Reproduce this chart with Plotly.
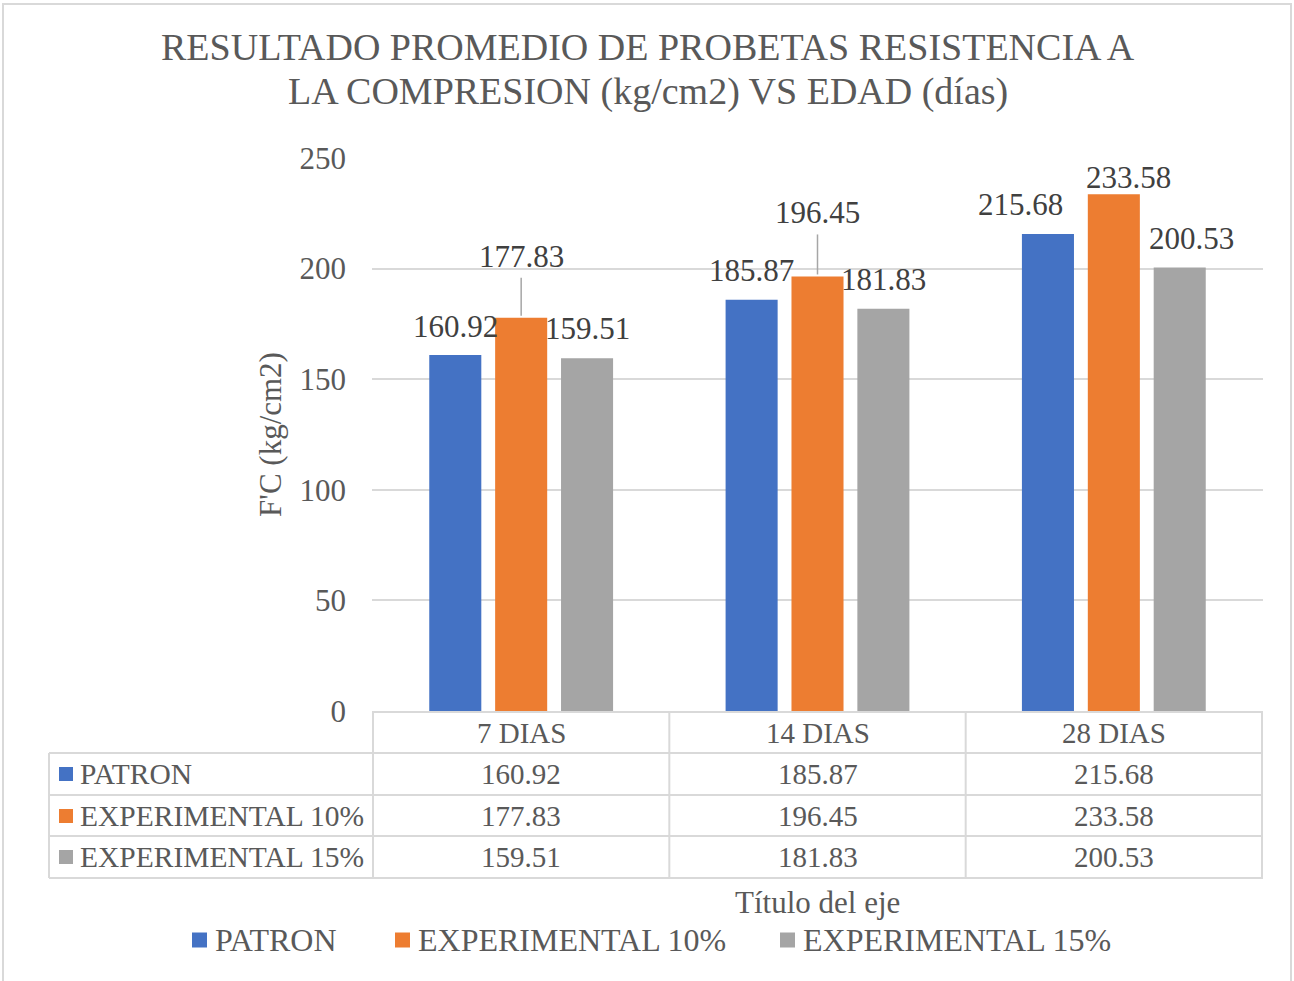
import plotly.graph_objects as go

# ---------------- data ----------------
categories = ["7 DIAS", "14 DIAS", "28 DIAS"]
series_names = ["PATRON", "EXPERIMENTAL 10%", "EXPERIMENTAL 15%"]
patron = [160.92, 185.87, 215.68]
exp10 = [177.83, 196.45, 233.58]
exp15 = [159.51, 181.83, 200.53]
y_ticks = [0, 50, 100, 150, 200, 250]
title_lines = ["RESULTADO PROMEDIO DE PROBETAS RESISTENCIA A",
               "LA COMPRESION (kg/cm2) VS EDAD (días)"]
y_title = "F'C (kg/cm2)"
x_title = "Título del eje"

series_values = [patron, exp10, exp15]

# ---------------- style ----------------
colors = ["#4472C4", "#ED7D31", "#A5A5A5"]
FONT = "Liberation Serif"
TXT = "#595959"
LBL = "#404040"
GRID = "#D9D9D9"
W, H = 1294, 981
ML, MR, MT, MB = 372, 31, 158, 270
PW = W - ML - MR
PH = H - MT - MB


def px(x):
    return (x - ML) / PW


def py(y):
    return (H - MB - y) / PH


BAR_STEP = 66  # px between bar centres within a group
# label offsets (px) relative to bar centre / bar top
label_dx = [[0, 0, -27], [0, 0, 15], [0, 0, 12]]
label_dy = [[29, 29, 29], [61, 64, 17], [30, 29, 29]]
# leader lines (series index, category index, length px) - middle series sits at category centre
leaders = [(1, 0, 40), (1, 1, 42)]
# manual legend layout (px): square left edge, text left edge
legend_sq_x = [192, 395, 780]
LEG_Y = 940

fig = go.Figure()
for name, vals, col in zip(series_names, series_values, colors):
    fig.add_trace(go.Bar(x=categories, y=vals, name=name, showlegend=False,
                         marker=dict(color=col, line=dict(width=0))))

annotations = []
shapes = []

# title
for k, (line, yc) in enumerate(zip(title_lines, [47, 92])):
    annotations.append(dict(x=px(648), y=py(yc), xref="paper", yref="paper", text=line,
                            showarrow=False, xanchor="center", yanchor="middle",
                            font=dict(family=FONT, size=38, color=TXT)))

# data labels
for i, vals in enumerate(series_values):
    for j, v in enumerate(vals):
        annotations.append(dict(
            x=categories[j], y=v, xref="x", yref="y",
            xshift=(i - 1) * BAR_STEP + label_dx[i][j], yshift=label_dy[i][j],
            text=f"{v:.2f}", showarrow=False, yanchor="middle", xanchor="center",
            font=dict(family=FONT, size=31, color=LBL)))

# leader lines
for i, j, ln in leaders:
    shapes.append(dict(type="line", xref="x", yref="y", x0=categories[j], x1=categories[j],
                       ysizemode="pixel", yanchor=series_values[i][j], y0=2, y1=ln,
                       line=dict(color="#A6A6A6", width=1.5)))

# ---------------- data table ----------------
row_lines = [753, 795, 836, 878]
row_centres = [774, 816, 857]
for yy in row_lines:
    shapes.append(dict(type="line", xref="paper", yref="paper", x0=px(49), x1=1.0,
                       y0=py(yy), y1=py(yy), line=dict(color=GRID, width=2)))
for b in [-0.5, 0.5, 1.5, 2.5]:
    shapes.append(dict(type="line", xref="x", yref="paper", x0=b, x1=b,
                       y0=py(711), y1=py(878), line=dict(color=GRID, width=2)))
shapes.append(dict(type="line", xref="paper", yref="paper", x0=px(49), x1=px(49),
                   y0=py(753), y1=py(878), line=dict(color=GRID, width=2)))

for j, c in enumerate(categories):
    annotations.append(dict(x=c, y=py(733), xref="x", yref="paper", text=c, showarrow=False,
                            yanchor="middle", font=dict(family=FONT, size=29, color=TXT)))
for i, (name, vals, col) in enumerate(zip(series_names, series_values, colors)):
    yc = row_centres[i]
    shapes.append(dict(type="rect", xref="paper", yref="paper", x0=px(59), x1=px(73),
                       y0=py(yc - 7), y1=py(yc + 7), fillcolor=col, line=dict(width=0)))
    annotations.append(dict(x=px(78), y=py(yc), xref="paper", yref="paper", text=name,
                            showarrow=False, xanchor="left", yanchor="middle",
                            font=dict(family=FONT, size=29.5, color=TXT)))
    for j, v in enumerate(vals):
        annotations.append(dict(x=categories[j], y=py(yc), xref="x", yref="paper",
                                text=f"{v:.2f}", showarrow=False, yanchor="middle",
                                font=dict(family=FONT, size=29, color=TXT)))

# x axis title
annotations.append(dict(x=0.5, y=py(902), xref="paper", yref="paper", text=x_title,
                        showarrow=False, yanchor="middle",
                        font=dict(family=FONT, size=31, color=TXT)))

# legend (drawn as squares + text)
for name, col, sx in zip(series_names, colors, legend_sq_x):
    shapes.append(dict(type="rect", xref="paper", yref="paper", x0=px(sx), x1=px(sx + 15),
                       y0=py(LEG_Y - 7.5), y1=py(LEG_Y + 7.5), fillcolor=col, line=dict(width=0)))
    annotations.append(dict(x=px(sx + 21), y=py(LEG_Y), xref="paper", yref="paper", text=name,
                            showarrow=False, xanchor="left", yanchor="middle",
                            font=dict(family=FONT, size=32, color=TXT)))

# outer chart border
shapes.append(dict(type="rect", xref="paper", yref="paper", x0=px(3), x1=px(1291),
                   y0=py(4), y1=py(1000), line=dict(color=GRID, width=2), fillcolor="rgba(0,0,0,0)"))

fig.update_layout(
    width=W, height=H,
    margin=dict(l=ML, r=MR, t=MT, b=MB, pad=0),
    paper_bgcolor="white", plot_bgcolor="white",
    font=dict(family=FONT, color=TXT),
    barmode="group", bargap=0.333, bargroupgap=0.21,
    xaxis=dict(type="category", showticklabels=False, showgrid=False, zeroline=False,
               showline=True, linecolor=GRID, linewidth=2, ticks=""),
    yaxis=dict(range=[0, 250], tickvals=y_ticks, showgrid=True, gridcolor=GRID, gridwidth=1.5,
               zeroline=False, showline=False, ticks="", ticklabelstandoff=25,
               tickfont=dict(family=FONT, size=31, color=TXT),
               title=dict(text=y_title, standoff=8, font=dict(family=FONT, size=31, color=TXT))),
    showlegend=False,
    annotations=annotations, shapes=shapes,
)

fig.write_html("out.html", config={"displayModeBar": False},
               post_script="document.body.style.margin='0';")
